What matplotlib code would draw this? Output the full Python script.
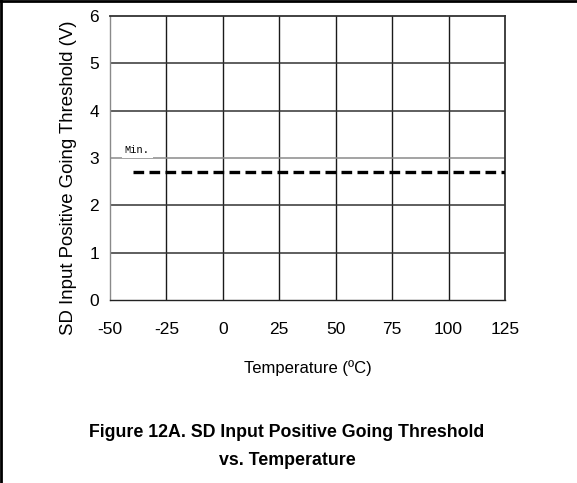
import matplotlib
matplotlib.use("Agg")
import matplotlib.pyplot as plt
from matplotlib.lines import Line2D

# data
x_ticks = [-50, -25, 0, 25, 50, 75, 100, 125]
y_ticks = [0, 1, 2, 3, 4, 5, 6]
min_temp = [-40, 125]
min_threshold = [2.7, 2.7]

plt.rcParams['font.family'] = ['Liberation Sans', 'DejaVu Sans']
plt.rcParams['axes.unicode_minus'] = False

W, H = 577, 483
fig = plt.figure(figsize=(W / 100, H / 100), dpi=100)
ax = fig.add_axes([110 / W, 1 - 300 / H, 395 / W, 284 / H])
ax.set_xlim(-50, 125)
ax.set_ylim(0, 6)
ax.set_xticks(x_ticks)
ax.set_yticks(y_ticks)
ax.tick_params(length=0, labelsize=12.5, colors='black')
ax.tick_params(axis='y', pad=8)
ax.tick_params(axis='x', pad=16)

for xv in x_ticks[1:-1]:
    ax.axvline(xv, color='#1a1a1a', lw=1.0, zorder=1)
for yv in y_ticks[1:-1]:
    ax.axhline(yv, color='#8a8a8a' if yv == 3 else '#333333', lw=1.1, zorder=1)

for side in ['top', 'right']:
    ax.spines[side].set_color('#333333')
    ax.spines[side].set_linewidth(1.3)
ax.spines['left'].set_color('#8a8a8a')
ax.spines['bottom'].set_color('#222222')
ax.spines['left'].set_linewidth(1.0)
ax.spines['bottom'].set_linewidth(1.0)

ax.plot(min_temp, min_threshold, color='black', lw=2.4, dashes=(3.2, 1.6), zorder=3,
        solid_capstyle='butt', dash_capstyle='butt')
ax.text(-38, 3.07, 'Min.', fontsize=7.5, family=['Liberation Mono', 'DejaVu Sans Mono'],
        ha='center', va='bottom', zorder=4,
        bbox=dict(facecolor='white', edgecolor='none', pad=2.2))

ax.set_xlabel('Temperature (ºC)', fontsize=12)
ax.xaxis.label.set_va('baseline')
ax.xaxis.set_label_coords(0.5, (300 - 373) / 284)
ax.set_ylabel('SD Input Positive Going Threshold (V)', fontsize=13.4)
ax.yaxis.label.set_va('center')
ax.yaxis.set_label_coords((69 - 110) / 395, (300 - 178) / 284)

title_font = ['Liberation Sans', 'DejaVu Sans']
fig.text(287 / W, 1 - 437 / H, 'Figure 12A. SD Input Positive Going Threshold',
         ha='center', va='baseline', fontsize=12.8, fontweight='bold', family=title_font)
fig.text(287 / W, 1 - 465 / H, 'vs. Temperature',
         ha='center', va='baseline', fontsize=12.8, fontweight='bold', family=title_font)

fig.add_artist(Line2D([0, 1], [1 - 1.3 / H, 1 - 1.3 / H], transform=fig.transFigure,
                      color='black', lw=2.0))
fig.add_artist(Line2D([1.3 / W, 1.3 / W], [0, 1], transform=fig.transFigure,
                      color='black', lw=2.0))

fig.savefig('out.png', dpi=100)
